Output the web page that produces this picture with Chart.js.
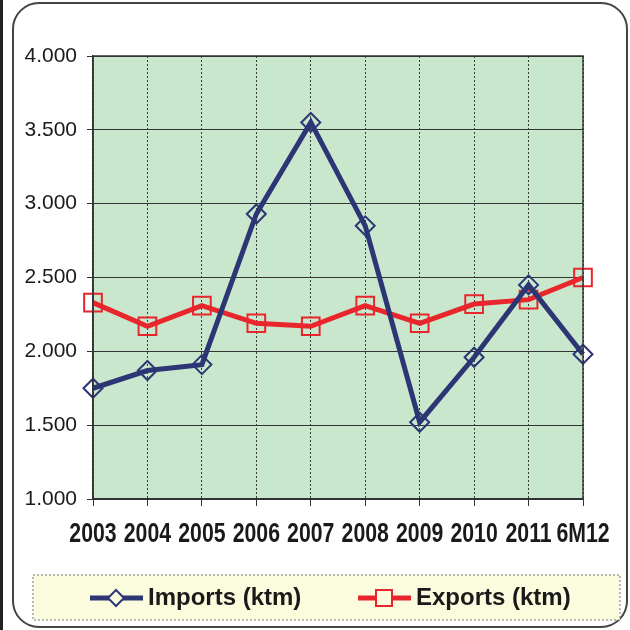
<!DOCTYPE html>
<html>
<head>
<meta charset="utf-8">
<script src="https://cdn.jsdelivr.net/npm/chart.js@4"></script>
<style>
  html, body { margin: 0; padding: 0; background: #fff; }
  #wrap { width: 630px; height: 630px; }
</style>
</head>
<body>
<div id="wrap"><canvas id="chart" width="630" height="630"></canvas></div>
<script>
const years = ["2003", "2004", "2005", "2006", "2007", "2008", "2009", "2010", "2011", "6M12"];
const imports = [1750, 1870, 1910, 2930, 3550, 2850, 1520, 1960, 2450, 1980];
const exports = [2330, 2170, 2310, 2190, 2170, 2310, 2190, 2320, 2350, 2500];
const yTicks = [1000, 1500, 2000, 2500, 3000, 3500, 4000];

const navy = "#2c3675";
const red = "#e8262c";

// numbers with a dot as thousands separator, e.g. 4.000
function fmt(v) {
    return Math.floor(v / 1000) + "." + String(v % 1000).padStart(3, "0");
}

const frame = {
    id: "frame",
    beforeDraw(chart) {
        const ctx = chart.ctx;
        const a = chart.chartArea;
        ctx.save();
        ctx.fillStyle = "#c8e7cd";
        ctx.fillRect(a.left, a.top, a.right - a.left, a.bottom - a.top);
        ctx.restore();
    },
    afterDraw(chart) {
        const ctx = chart.ctx;
        const a = chart.chartArea;
        const xs = chart.scales.x;
        ctx.save();
        // plot border
        ctx.strokeStyle = "#333";
        ctx.lineWidth = 1.5;
        ctx.strokeRect(a.left, a.top, a.right - a.left, a.bottom - a.top);

        // category labels in a condensed bold face
        ctx.fillStyle = "#1a1a1a";
        ctx.font = "bold 28px 'Liberation Sans', Arial, sans-serif";
        ctx.textAlign = "center";
        ctx.textBaseline = "alphabetic";
        chart.data.labels.forEach((lab, i) => {
            const px = xs.getPixelForValue(i);
            ctx.save();
            ctx.translate(px, 542);
            ctx.scale(0.76, 1);
            ctx.fillText(lab, 0, 0);
            ctx.restore();
        });
        ctx.textAlign = "left";

        // outer rounded frame
        ctx.strokeStyle = "#444";
        ctx.lineWidth = 2;
        ctx.beginPath();
        ctx.roundRect(13, 3, 614, 624, 26);
        ctx.stroke();
        ctx.lineWidth = 3;
        ctx.strokeStyle = "#222";
        ctx.beginPath();
        ctx.moveTo(1.5, 0);
        ctx.lineTo(1.5, 630);
        ctx.stroke();

        // legend box
        ctx.fillStyle = "#fbfbdd";
        ctx.fillRect(33, 575, 587, 45);
        ctx.setLineDash([2, 2]);
        ctx.strokeStyle = "#777";
        ctx.lineWidth = 1;
        ctx.strokeRect(33, 575, 587, 45);
        ctx.setLineDash([]);

        const items = [
            { x: 90, ds: chart.data.datasets[0] },
            { x: 358, ds: chart.data.datasets[1] }
        ];
        const y = 598;
        items.forEach(it => {
            ctx.strokeStyle = it.ds.borderColor;
            ctx.lineWidth = 5;
            ctx.beginPath();
            ctx.moveTo(it.x, y);
            ctx.lineTo(it.x + 53, y);
            ctx.stroke();
            ctx.lineWidth = 2;
            ctx.fillStyle = "#fbfbdd";
            const cx = it.x + 26;
            ctx.beginPath();
            if (it.ds.pointStyle === "rectRot") {
                ctx.moveTo(cx, y - 8);
                ctx.lineTo(cx + 8, y);
                ctx.lineTo(cx, y + 8);
                ctx.lineTo(cx - 8, y);
                ctx.closePath();
            } else {
                ctx.rect(cx - 8, y - 8, 16, 16);
            }
            ctx.fill();
            ctx.stroke();
            ctx.fillStyle = "#1a1a1a";
            ctx.font = "bold 24px 'Liberation Sans', Arial, sans-serif";
            ctx.textBaseline = "middle";
            ctx.fillText(it.ds.label, it.x + 58, y);
        });
        ctx.restore();
    }
};

new Chart(document.getElementById("chart"), {
    type: "line",
    data: {
        labels: years,
        datasets: [
            {
                label: "Imports (ktm)",
                data: imports,
                borderColor: navy,
                borderWidth: 5,
                pointStyle: "rectRot",
                pointRadius: 9.5,
                pointBorderWidth: 2,
                pointBorderColor: navy,
                pointBackgroundColor: "rgba(0,0,0,0)",
                tension: 0
            },
            {
                label: "Exports (ktm)",
                data: exports,
                borderColor: red,
                borderWidth: 5,
                pointStyle: "rect",
                pointRadius: 12.5,
                pointBorderWidth: 2,
                pointBorderColor: red,
                pointBackgroundColor: "rgba(0,0,0,0)",
                tension: 0
            }
        ]
    },
    options: {
        responsive: false,
        animation: false,
        layout: { padding: { top: 56, right: 47, left: 0, bottom: 0 } },
        plugins: {
            legend: { display: false },
            tooltip: { enabled: false }
        },
        scales: {
            x: {
                offset: false,
                grid: {
                    color: "#3a3a3a",
                    lineWidth: 1,
                    tickLength: 7,
                    tickColor: "#333"
                },
                border: { display: true, color: "#333", width: 1.5, dash: [2, 2] },
                ticks: { display: false, autoSkip: false },
                afterFit(axis) { axis.height = 131; }
            },
            y: {
                min: 1000,
                max: 4000,
                afterBuildTicks(axis) { axis.ticks = yTicks.map(v => ({ value: v })); },
                grid: {
                    color: "#333",
                    lineWidth: 1,
                    tickLength: 6,
                    tickColor: "#333"
                },
                border: { display: true, color: "#333", width: 1.5 },
                ticks: {
                    color: "#1a1a1a",
                    padding: 10,
                    callback: v => fmt(v),
                    font: { family: "'Liberation Sans', Arial, sans-serif", size: 21 }
                },
                afterFit(axis) { axis.width = 93; }
            }
        }
    },
    plugins: [frame]
});
</script>
</body>
</html>
